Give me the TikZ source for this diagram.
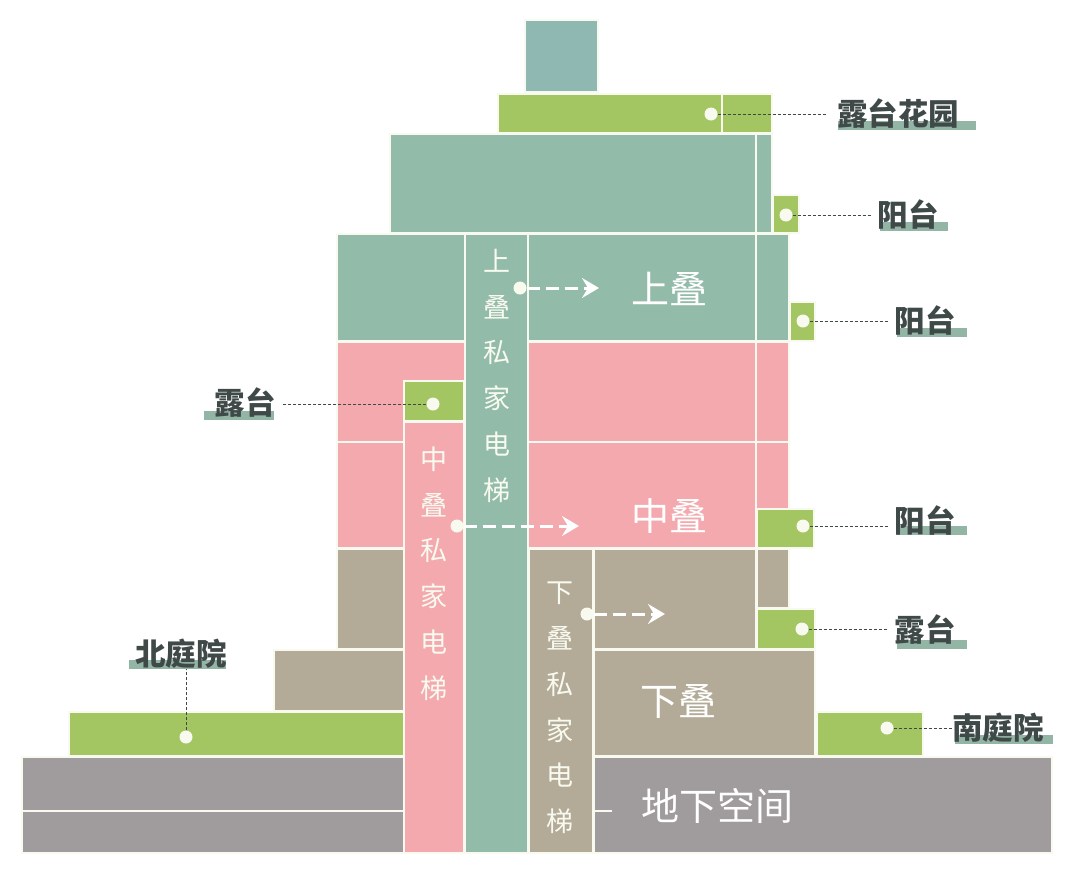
\documentclass[tikz,border=0pt]{standalone}
\usepackage{fontspec}
\setmainfont{Noto Sans CJK SC}
\usepackage{tikz}
\usetikzlibrary{arrows.meta, positioning}
\definecolor{UpperTeal}{HTML}{93BBA9}
\definecolor{TopTeal}{HTML}{8FB8B2}
\definecolor{MiddlePink}{HTML}{F3A9AD}
\definecolor{LowerTan}{HTML}{B3AB97}
\definecolor{BaseGrey}{HTML}{A09C9E}
\definecolor{TerraceGreen}{HTML}{A3C663}
\definecolor{TagBar}{HTML}{93B5A6}
\definecolor{TagInk}{HTML}{3F4A48}
\definecolor{EdgeCream}{HTML}{F8FAF0}
\tikzset{
    block/.style={draw=EdgeCream, line width=1.2pt},
    upperblock/.style={block, fill=UpperTeal},
    middleblock/.style={block, fill=MiddlePink},
    lowerblock/.style={block, fill=LowerTan},
    baseblock/.style={block, fill=BaseGrey},
    greenblock/.style={block, fill=TerraceGreen},
    dotmark/.style={circle, fill=EdgeCream, inner sep=0pt, minimum size=13pt},
    tag/.style={text=TagInk, inner xsep=6pt, inner ysep=0pt, font=\fontsize{30.5}{30.5}\selectfont\bfseries},
    tagbar/.style={fill=TagBar},
    leader/.style={densely dashed, line width=0.6pt, draw=TagInk},
    floorname/.style={text=white, inner sep=0pt, font=\fontsize{38}{38}\selectfont},
    liftname/.style={text=EdgeCream, inner sep=0pt, font=\fontsize{27}{27}\selectfont},
    liftarrow/.style={-{Stealth[length=17pt, width=20pt, inset=6pt]}, white, line width=3pt, dash pattern=on 13pt off 6pt}
}
\begin{document}
\begin{tikzpicture}[x=1pt, y=-1pt]
    \useasboundingbox (0,0) rectangle (1080,871);
    % Top floors
    \draw[block, fill=TopTeal] (525,20) rectangle (598,92);
    \draw[greenblock] (498,94) rectangle (772,133);
    \draw[block] (722,94) -- (722,133);
    \draw[upperblock] (390,134) rectangle (772,233);
    \draw[block] (756,134) -- (756,233);
    \draw[greenblock] (773,195) rectangle (799,233);
    \draw[upperblock] (337,234) rectangle (789,341);
    \draw[block] (756,234) -- (756,341);
    \draw[greenblock] (790,302) rectangle (815,341);

    % Middle floors
    \draw[middleblock] (337,342) rectangle (789,548);
    \draw[block] (337,442) -- (789,442);
    \draw[block] (756,342) -- (756,548);
    \draw[greenblock] (757,509) rectangle (814,548);

    % Lower floors
    \draw[lowerblock] (337,549) rectangle (404,649);
    \draw[lowerblock] (274,650) rectangle (404,711);
    \draw[lowerblock] (594,549) rectangle (756,649);
    \draw[lowerblock] (757,549) rectangle (789,608);
    \draw[greenblock] (757,609) rectangle (815,649);
    \draw[lowerblock] (594,650) rectangle (815,756);

    % Courtyards and basement
    \draw[greenblock] (69,712) rectangle (404,756);
    \draw[greenblock] (817,712) rectangle (923,756);
    \draw[baseblock] (22,757) rectangle (404,853);
    \draw[block] (22,811) -- (404,811);
    \draw[baseblock] (594,757) rectangle (1052,853);
    \draw[block] (594,811) -- (612,811);

    % Lift shafts
    \draw[middleblock] (404,422) rectangle (464,853);
    \draw[greenblock] (404,381) rectangle (464,421);
    \draw[upperblock] (465,234) rectangle (528,853);
    \draw[lowerblock] (529,549) rectangle (593,853);

    % Lift names
    \foreach \ch [count=\i from 0] in {上,叠,私,家,电,梯}
        \node[liftname] (upperlift\i) at (497,261+45.8*\i) {\ch};
    \foreach \ch [count=\i from 0] in {中,叠,私,家,电,梯}
        \node[liftname] (middlelift\i) at (434,459+45.8*\i) {\ch};
    \foreach \ch [count=\i from 0] in {下,叠,私,家,电,梯}
        \node[liftname] (lowerlift\i) at (560,593+45.6*\i) {\ch};

    % Floor names
    \node[floorname] (upperfloor) at (669,289) {上叠};
    \node[floorname] (middlefloor) at (669,516) {中叠};
    \node[floorname] (lowerfloor) at (678,701) {下叠};
    \node[floorname] (basement) at (717,806) {地下空间};

    % Lift arrows
    \node[dotmark] (upperdoor) at (520,288) {};
    \coordinate (upperend) at (599,288);
    \draw[liftarrow] (upperdoor) -- (upperend);
    \node[dotmark] (middledoor) at (457,526) {};
    \coordinate (middleend) at (579,526);
    \draw[liftarrow] (middledoor) -- (middleend);
    \node[dotmark] (lowerdoor) at (587,614) {};
    \coordinate (lowerend) at (665,614);
    \draw[liftarrow] (lowerdoor) -- (lowerend);

    % Tag bars
    \fill[tagbar] (838,121) rectangle (976,130);
    \fill[tagbar] (880,222) rectangle (948,231);
    \fill[tagbar] (897,328) rectangle (967,337);
    \fill[tagbar] (204,411) rectangle (274,420);
    \fill[tagbar] (897,526) rectangle (967,535);
    \fill[tagbar] (897,640) rectangle (967,649);
    \fill[tagbar] (129,660) rectangle (226,669);
    \fill[tagbar] (955,735) rectangle (1053,744);

    % Tags with their dots
    \node[tag, inner xsep=10pt] (roofgarden) at (898,114) {露台花园};
    \node[dotmark] (roofdot) at (711,114) {};
    \draw[leader] (roofdot) -- (roofdot -| roofgarden.west);
    \node[tag] (balconya) at (908,215) {阳台};
    \node[dotmark] (balconyadot) at (786,215) {};
    \draw[leader] (balconyadot) -- (balconyadot -| balconya.west);
    \node[tag] (balconyb) at (925,321) {阳台};
    \node[dotmark] (balconybdot) at (803,321) {};
    \draw[leader] (balconybdot) -- (balconybdot -| balconyb.west);
    \node[tag] (terracea) at (245,403) {露台};
    \node[dotmark] (terraceadot) at (433,404) {};
    \draw[leader] (terraceadot) -- (terraceadot -| terracea.east);
    \node[tag] (balconyc) at (925,521) {阳台};
    \node[dotmark] (balconycdot) at (803,526) {};
    \draw[leader] (balconycdot) -- (balconycdot -| balconyc.west);
    \node[tag] (terraceb) at (925,630) {露台};
    \node[dotmark] (terracebdot) at (802,629) {};
    \draw[leader] (terracebdot) -- (terracebdot -| terraceb.west);
    \node[tag] (northyard) at (181,654) {北庭院};
    \node[dotmark] (northdot) at (186,737) {};
    \draw[leader] (northdot) -- (northdot |- northyard.south);
    \node[tag, inner xsep=0pt] (southyard) at (998,728) {南庭院};
    \node[dotmark] (southdot) at (887,728) {};
    \draw[leader] (southdot) -- (southdot -| southyard.west);
\end{tikzpicture}
\end{document}
